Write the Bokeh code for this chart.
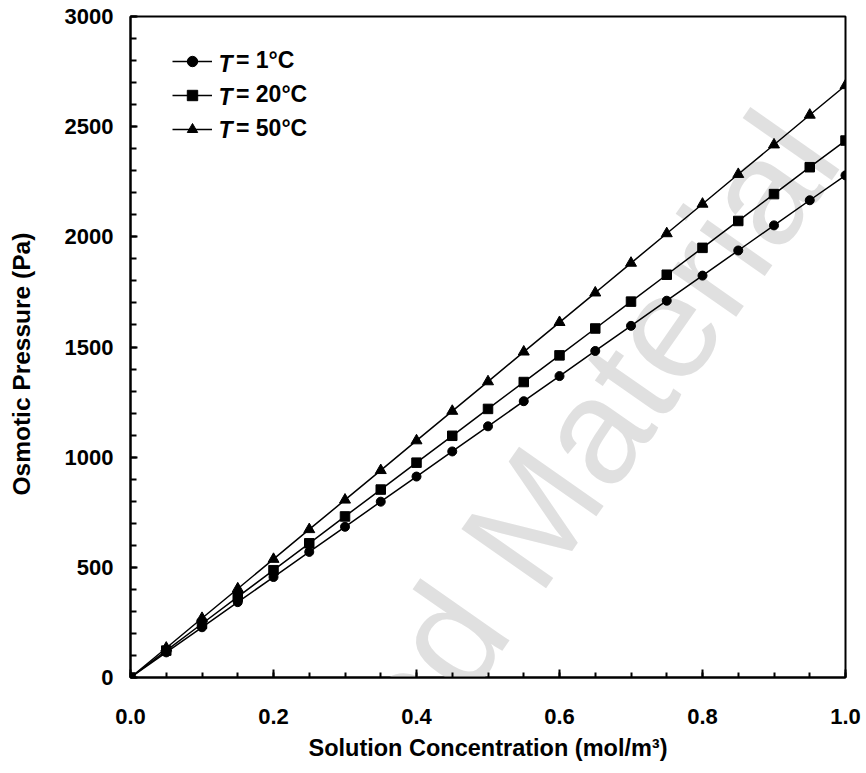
from bokeh.plotting import figure
from bokeh.models import (SingleIntervalTicker, PrintfTickFormatter, Legend,
                          LegendItem, Label, Range1d, Title)
from bokeh.core.properties import value
from bokeh.embed import file_html
from bokeh.resources import INLINE

# ---- data ----
conc = [0.00, 0.05, 0.10, 0.15, 0.20, 0.25, 0.30, 0.35, 0.40, 0.45, 0.50,
        0.55, 0.60, 0.65, 0.70, 0.75, 0.80, 0.85, 0.90, 0.95, 1.00]
p_1C = [0, 114, 228, 342, 456, 570, 684, 798, 912, 1026, 1140,
        1254, 1368, 1482, 1596, 1710, 1824, 1938, 2052, 2166, 2279]
p_20C = [0, 122, 244, 366, 487, 609, 731, 853, 975, 1097, 1219,
         1341, 1462, 1584, 1706, 1828, 1950, 2072, 2194, 2316, 2437]
p_50C = [0, 134, 269, 403, 537, 672, 806, 940, 1075, 1209, 1343,
         1478, 1612, 1746, 1881, 2015, 2149, 2284, 2418, 2553, 2687]
series_labels = ["= 1°C", "= 20°C", "= 50°C"]
series_symbol = "T"
x_title = "Solution Concentration (mol/m³)"
y_title = "Osmotic Pressure (Pa)"
watermark = "Copyrighted Material"

FONT = "Liberation Sans"

p = figure(width=866, height=773, x_range=Range1d(0, 1), y_range=Range1d(0, 3000),
           output_backend="svg", toolbar_location=None,
           min_border_left=130, min_border_right=21, min_border_top=16,
           min_border_bottom=96)
p.grid.visible = False
p.outline_line_color = "black"
p.outline_line_width = 2
p.background_fill_color = "white"
p.border_fill_color = "white"

# watermark (behind everything)
p.add_layout(Label(x=672, y=546, x_units="screen", y_units="screen", text=watermark,
                   angle=55, angle_units="deg", text_align="right",
                   text_baseline="alphabetic", text_font=FONT, text_font_size="150px",
                   text_color="#e0e0e0", level="underlay"))

# axes
xa = p.xaxis[0]
xa.ticker = SingleIntervalTicker(interval=0.2, num_minor_ticks=4)
xa.formatter = PrintfTickFormatter(format="%.1f")
ya = p.yaxis[0]
ya.ticker = SingleIntervalTicker(interval=500, num_minor_ticks=5)
for ax in (xa, ya):
    ax.axis_line_width = 2
    ax.axis_line_color = "black"
    ax.major_tick_line_width = 2
    ax.minor_tick_line_width = 2
    ax.major_tick_line_color = "black"
    ax.minor_tick_line_color = "black"
    ax.major_tick_out = 0
    ax.minor_tick_out = 0
    ax.major_label_text_font = FONT
    ax.major_label_text_font_size = "22px"
    ax.major_label_text_font_style = "bold"
    ax.major_label_text_color = "black"
xa.major_tick_in = 8
xa.minor_tick_in = 5
ya.major_tick_in = 7
ya.minor_tick_in = 6
xa.major_label_standoff = 31
ya.major_label_standoff = 17
xa.axis_label = x_title
xa.axis_label_text_font = FONT
xa.axis_label_text_font_size = "23.5px"
xa.axis_label_text_font_style = "bold"
xa.axis_label_text_color = "black"
xa.axis_label_standoff = 8

# y title: an empty second line keeps the text toward the outer edge of its panel
p.add_layout(Title(text=y_title + "\n", align="left", offset=182, standoff=0,
                   text_font=FONT, text_font_size="24.5px",
                   text_font_style="bold", text_color="black"), "left")

# series
r = []
for ys, mk, sz in ((p_1C, "circle", 9), (p_20C, "square", 9.5), (p_50C, "triangle", 11)):
    ln = p.line(conc, ys, line_color="black", line_width=1.5)
    sc = p.scatter(conc, ys, marker=mk, size=sz, fill_color="black", line_color="black")
    r.append([ln, sc])

glyph_w, glyph_h, spacing = 40, 26, 7
leg_x, leg_top = 42, 627
n = len(series_labels)
leg_h = n * glyph_h + (n - 1) * spacing
legend = Legend(items=[LegendItem(label=value(lab), renderers=rr) for lab, rr in zip(series_labels, r)],
                location=(leg_x, leg_top - leg_h), orientation="vertical",
                glyph_width=glyph_w, glyph_height=glyph_h, spacing=spacing,
                padding=0, margin=0, label_standoff=24,
                label_text_font=FONT, label_text_font_size="23px",
                label_text_font_style="bold", label_text_color="black",
                border_line_color=None, background_fill_alpha=0)
p.add_layout(legend)

for i in range(n):
    p.add_layout(Label(x=leg_x + glyph_w + 6, y=leg_top - glyph_h / 2 - i * (glyph_h + spacing),
                       x_units="screen", y_units="screen", text=series_symbol,
                       text_align="left", text_baseline="middle", text_font=FONT,
                       text_font_size="23px", text_font_style="bold italic",
                       text_color="black"))

open("out.html", "w").write(file_html(p, INLINE))
